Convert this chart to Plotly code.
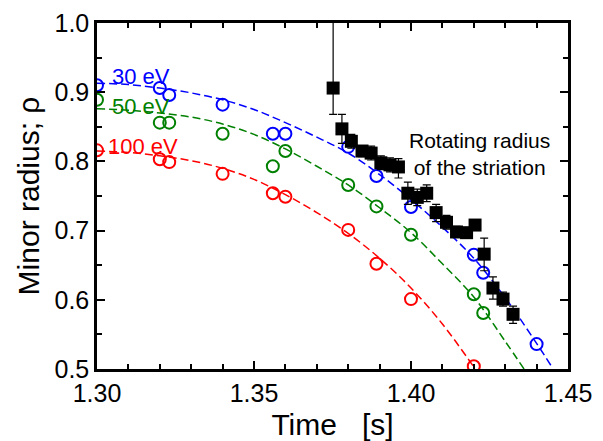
import plotly.graph_objects as go

# open circles: measured radius at three electron temperatures
t_30 = [1.300, 1.320, 1.323, 1.340, 1.356, 1.360, 1.380, 1.389, 1.400, 1.420, 1.423, 1.440]
r_30 = [0.910, 0.906, 0.896, 0.882, 0.840, 0.840, 0.821, 0.779, 0.734, 0.665, 0.639, 0.536]
t_50 = [1.300, 1.320, 1.323, 1.340, 1.356, 1.360, 1.380, 1.389, 1.400, 1.420, 1.423]
r_50 = [0.889, 0.856, 0.856, 0.840, 0.793, 0.815, 0.766, 0.735, 0.694, 0.608, 0.581]
t_100 = [1.300, 1.320, 1.323, 1.340, 1.356, 1.360, 1.380, 1.389, 1.400, 1.420]
r_100 = [0.816, 0.803, 0.799, 0.782, 0.754, 0.749, 0.701, 0.652, 0.601, 0.504]

# dashed fit curves
fit_t_30 = [1.30, 1.31, 1.32, 1.33, 1.34, 1.35, 1.36, 1.37, 1.38, 1.39, 1.40, 1.41, 1.42, 1.43, 1.44, 1.445]
fit_r_30 = [0.913, 0.911, 0.906, 0.899, 0.889, 0.875, 0.856, 0.835, 0.812, 0.781, 0.745, 0.705, 0.660, 0.603, 0.537, 0.502]
fit_t_50 = [1.30, 1.31, 1.32, 1.33, 1.34, 1.35, 1.36, 1.37, 1.38, 1.39, 1.40, 1.41, 1.42, 1.43, 1.436]
fit_r_50 = [0.876, 0.874, 0.870, 0.864, 0.854, 0.839, 0.818, 0.793, 0.766, 0.733, 0.697, 0.652, 0.604, 0.540, 0.500]
fit_t_100 = [1.30, 1.31, 1.32, 1.33, 1.34, 1.35, 1.36, 1.37, 1.38, 1.39, 1.40, 1.41, 1.42]
fit_r_100 = [0.815, 0.813, 0.808, 0.801, 0.790, 0.774, 0.752, 0.726, 0.696, 0.660, 0.617, 0.565, 0.503]

# filled squares: rotating radius of the striation
t_str = [1.3752, 1.378, 1.381, 1.3844, 1.3873, 1.3904, 1.3933, 1.396, 1.399, 1.402,
         1.405, 1.408, 1.4113, 1.4145, 1.4177, 1.4204, 1.4233, 1.4261, 1.4293, 1.4325]
r_str = [0.906, 0.847, 0.829, 0.815, 0.812, 0.798, 0.795, 0.792, 0.754, 0.748,
         0.754, 0.726, 0.712, 0.698, 0.697, 0.708, 0.666, 0.617, 0.601, 0.579]
err_up = [0.12, 0.021, 0.01, 0.008, 0.01, 0.01, 0.01, 0.012, 0.016, 0.012,
          0.012, 0.012, 0.01, 0.008, 0.005, 0.005, 0.023, 0.016, 0.01, 0.012]
err_dn = [0.038, 0.021, 0.01, 0.008, 0.01, 0.01, 0.01, 0.016, 0.016, 0.012,
          0.012, 0.013, 0.01, 0.008, 0.005, 0.005, 0.024, 0.016, 0.01, 0.013]

FONT = "Liberation Sans, Arial, sans-serif"

fig = go.Figure()

for ft, fr, col in [(fit_t_30, fit_r_30, "#0000ff"),
                    (fit_t_50, fit_r_50, "#008000"),
                    (fit_t_100, fit_r_100, "#ff0000")]:
    fig.add_trace(go.Scatter(x=ft, y=fr, mode="lines", line_shape="spline",
                             line=dict(color=col, width=1.5, dash="8px,4px")))

for t, r, col in [(t_30, r_30, "#0000ff"), (t_50, r_50, "#008000"), (t_100, r_100, "#ff0000")]:
    fig.add_trace(go.Scatter(x=t, y=r, mode="markers",
                             marker=dict(symbol="circle-open", size=12, color=col,
                                         line=dict(width=2, color=col))))

fig.add_trace(go.Scatter(x=t_str, y=r_str, mode="markers",
                         marker=dict(symbol="square", size=13, color="black"),
                         error_y=dict(type="data", symmetric=False, array=err_up,
                                      arrayminus=err_dn, color="black",
                                      thickness=1.2, width=4)))

labels = [("30 eV", 0.922, "#0000ff", 1.3042),
          ("50 eV", 0.880, "#008000", 1.3042),
          ("100 eV", 0.822, "#ff0000", 1.3030)]
for txt, yy, col, xx in labels:
    fig.add_annotation(x=xx, y=yy, text=txt, showarrow=False, xanchor="left",
                       yanchor="middle", font=dict(size=22, color=col, family=FONT))

fig.add_annotation(x=1.4217, y=0.811, text="Rotating radius<br>of the striation",
                   showarrow=False, xanchor="center", yanchor="middle",
                   font=dict(size=21, color="black", family=FONT))

axis_common = dict(showgrid=False, zeroline=False, showline=True, linecolor="black",
                   linewidth=2.5, mirror="allticks", ticks="inside", ticklen=8,
                   tickwidth=2, tickcolor="black", automargin=False,
                   tickfont=dict(size=25, color="black", family=FONT))

fig.update_xaxes(range=[1.30, 1.45], dtick=0.05, tick0=1.30, tickformat=".2f",
                 minor=dict(dtick=0.01, ticks="inside", ticklen=5, tickwidth=2, tickcolor="black"),
                 title=dict(text="Time   [s]", font=dict(size=30, color="black", family=FONT),
                            standoff=10),
                 **axis_common)
fig.update_yaxes(range=[0.5, 1.0], dtick=0.1, tick0=0.5, tickformat=".1f",
                 minor=dict(dtick=0.05, ticks="inside", ticklen=5, tickwidth=2, tickcolor="black"),
                 title=dict(text="Minor radius; ρ", font=dict(size=30, color="black", family=FONT),
                            standoff=6),
                 **axis_common)

# the page body adds an 8px offset, so the figure is 8px smaller on each side
fig.update_layout(width=595, height=433, showlegend=False,
                  plot_bgcolor="white", paper_bgcolor="white",
                  margin=dict(l=89, r=35, t=15, b=72))

fig.write_html("out.html")
